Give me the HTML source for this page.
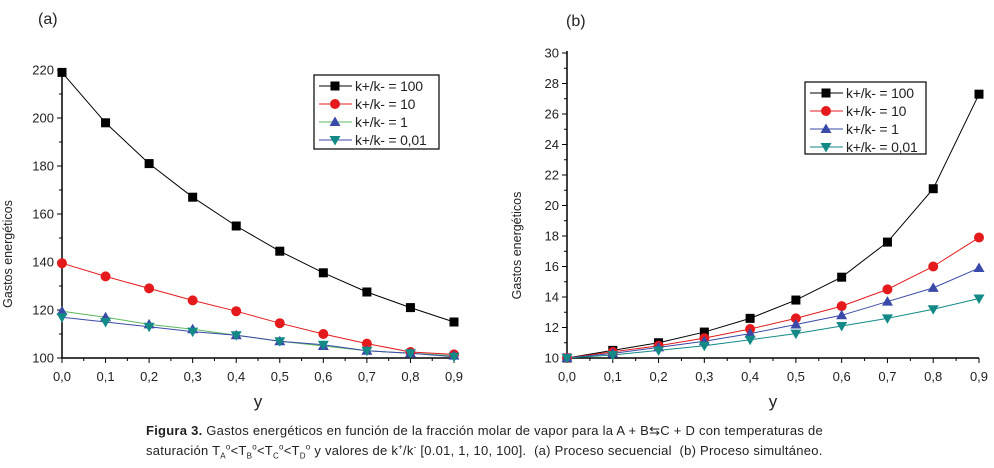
<!DOCTYPE html>
<html><head><meta charset="utf-8"><style>
body{margin:0;width:994px;height:468px;background:#fff;overflow:hidden;font-family:"Liberation Sans",sans-serif}
svg{position:absolute;left:0;top:0}
.cap{position:absolute;left:146px;top:421px;font-size:13px;letter-spacing:0.25px;color:#222;line-height:20px;white-space:nowrap}
.cap sub,.cap sup{font-size:8px;line-height:0}
</style></head><body>
<svg id="s" width="994" height="468"></svg>
<div class="cap"><b>Figura 3.</b> Gastos energéticos en función de la fracción molar de vapor para la A + B⇆C + D con temperaturas de<br>saturación T<sub>A</sub><sup>o</sup>&lt;T<sub>B</sub><sup>o</sup>&lt;T<sub>C</sub><sup>o</sup>&lt;T<sub>D</sub><sup>o</sup> y valores de k<sup>+</sup>/k<sup>-</sup> [0.01, 1, 10, 100]. &nbsp;(a) Proceso secuencial &nbsp;(b) Proceso simultáneo.</div>
<script>
const xCats=[0,0.1,0.2,0.3,0.4,0.5,0.6,0.7,0.8,0.9];
const xTickLabels=["0,0","0,1","0,2","0,3","0,4","0,5","0,6","0,7","0,8","0,9"];
const seriesNames=["k+/k- = 100","k+/k- = 10","k+/k- = 1","k+/k- = 0,01"];
const aK100=[219,198,181,167,155,144.5,135.5,127.5,121,115];
const aK10=[139.5,134,129,124,119.5,114.5,110,106,102.5,101.5];
const aK1=[119.5,117,114,112,109.5,107,105,103,102,101];
const aK001=[117,115,113,111,109.5,107,105.5,103,102,100.5];
const aYTicks=[100,120,140,160,180,200,220];
const bK100=[10,10.5,11.0,11.7,12.6,13.8,15.3,17.6,21.1,27.3];
const bK10=[10,10.4,10.8,11.3,11.9,12.6,13.4,14.5,16,17.9];
const bK1=[10,10.3,10.7,11.1,11.6,12.2,12.8,13.7,14.6,15.9];
const bK001=[10,10.2,10.5,10.8,11.2,11.6,12.1,12.6,13.2,13.9];
const bYTicks=[10,12,14,16,18,20,22,24,26,28,30];

const NS="http://www.w3.org/2000/svg",S=document.getElementById('s');
function mk(t,a,p){const e=document.createElementNS(NS,t);for(const k in a)e.setAttribute(k,a[k]);(p||S).appendChild(e);return e;}
const colors=["#000","#e41a1c","#3a4aa8","#138a86"];
const lineCols=[["#000","#e41a1c","#5cb85c","#3a4aa8"],["#000","#e41a1c","#3a4aa8","#138a86"]];
function marker(g,k,x,y,c){
  if(k==0)mk('rect',{x:x-4.5,y:y-4.5,width:9,height:9,fill:c},g);
  else if(k==1)mk('circle',{cx:x,cy:y,r:5,fill:c},g);
  else if(k==2)mk('polygon',{points:`${x},${y-5.5} ${x+5.5},${y+4} ${x-5.5},${y+4}`,fill:c},g);
  else mk('polygon',{points:`${x},${y+5.5} ${x+5.5},${y-4} ${x-5.5},${y-4}`,fill:c},g);
}
function chart(id,x0,x1,y0,y1,yMin,yMax,yT,series,leg,lc,lbl,lx,ytx){
  const g=mk('g',{});
  const X=v=>x0+(v-0)/(0.9)*(x1-x0), Y=v=>y0-(v-yMin)/(yMax-yMin)*(y0-y1);
  mk('line',{x1:x0,y1:y0,x2:x0,y2:y1-2,stroke:'#000','stroke-width':1.5},g);
  mk('line',{x1:x0,y1:y0,x2:x1,y2:y0,stroke:'#000','stroke-width':1.5},g);
  yT.forEach((t,i)=>{const y=Y(t);mk('line',{x1:x0-5,y1:y,x2:x0,y2:y,stroke:'#000'},g);
    if(i<yT.length-1){const ym=Y(t+(yT[1]-yT[0])/2);mk('line',{x1:x0-3,y1:ym,x2:x0,y2:ym,stroke:'#000'},g);}
    const tx=mk('text',{x:x0-8,y:y+4.5,'text-anchor':'end','font-size':13,fill:'#222'},g);tx.textContent=t;});
  xCats.forEach((c,i)=>{const x=X(c);mk('line',{x1:x,y1:y0,x2:x,y2:y0+5,stroke:'#000'},g);
    if(i<9){mk('line',{x1:X(c+0.05),y1:y0,x2:X(c+0.05),y2:y0+3,stroke:'#000'},g);}
    const tx=mk('text',{x:x,y:y0+23,'text-anchor':'middle','font-size':13,fill:'#222'},g);tx.textContent=xTickLabels[i];});
  const xt=mk('text',{x:(x0+x1)/2,y:y0+49,'text-anchor':'middle','font-size':17,fill:'#222'},g);xt.textContent='y';
  const yt=mk('text',{x:ytx,y:(y0+y1)/2+40,'text-anchor':'middle','font-size':12.5,fill:'#222',transform:`rotate(-90 ${ytx} ${(y0+y1)/2+40})`},g);yt.textContent='Gastos energéticos';
  const l=mk('text',{x:lx[0],y:lx[1],'font-size':16,fill:'#222'},g);l.textContent=lbl;
  series.forEach((s,k)=>{
    mk('polyline',{points:s.map((v,i)=>X(xCats[i])+','+Y(v)).join(' '),fill:'none',stroke:lc[k],'stroke-width':1},g);
  });
  series.forEach((s,k)=>{const sg=mk('g',{},g);
    s.forEach((v,i)=>marker(sg,k,X(xCats[i]),Y(v),colors[k]));});
  const [lx0,ly0,lw,lh]=leg;
  const lg=mk('g',{},g);
  mk('rect',{x:lx0,y:ly0,width:lw,height:lh,fill:'#fff',stroke:'#000','stroke-width':1.2},lg);
  seriesNames.forEach((n,k)=>{const y=ly0+11+k*18;
    mk('line',{x1:lx0+5,y1:y,x2:lx0+38,y2:y,stroke:lc[k]},lg);marker(lg,k,lx0+21,y,colors[k]);
    const t=mk('text',{x:lx0+41,y:y+5,'font-size':14,'letter-spacing':-0.2,fill:'#222'},lg);t.textContent=n;});
}
chart('chart-a',62,454,358,70,100,220,aYTicks,[aK100,aK10,aK1,aK001],[314,75,125,74],lineCols[0],'(a)',[38,24],12);
chart('chart-b',567,979,358,53,10,30,bYTicks,[bK100,bK10,bK1,bK001],[805,82,121,72],lineCols[1],'(b)',[566,26],521);
</script>
</body></html>
